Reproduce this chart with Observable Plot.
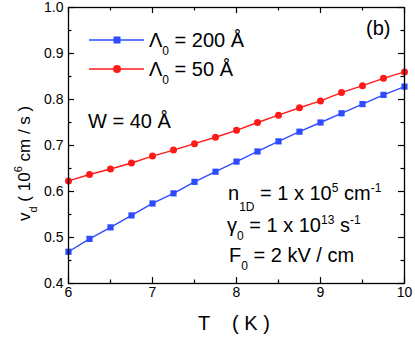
<!DOCTYPE html>
<html><head><meta charset="utf-8">
<script src="https://cdn.jsdelivr.net/npm/d3@7"></script>
<script src="https://cdn.jsdelivr.net/npm/@observablehq/plot@0.6"></script>
<style>body{margin:0;background:#fff}</style>
</head><body><div id="chart"></div>
<script>
const temperature = [6, 6.25, 6.5, 6.75, 7, 7.25, 7.5, 7.75, 8, 8.25, 8.5, 8.75, 9, 9.25, 9.5, 9.75, 10];
const vd200 = [0.469, 0.497, 0.522, 0.548, 0.574, 0.596, 0.621, 0.643, 0.665, 0.687, 0.709, 0.730, 0.750, 0.770, 0.790, 0.810, 0.828];
const vd50 = [0.623, 0.637, 0.649, 0.662, 0.677, 0.690, 0.704, 0.718, 0.733, 0.750, 0.766, 0.782, 0.797, 0.815, 0.830, 0.846, 0.860];
const xTicks = [6, 7, 8, 9, 10];
const xMinor = [6.5, 7.5, 8.5, 9.5];
const yTicks = [0.4, 0.5, 0.6, 0.7, 0.8, 0.9, 1.0];
const yMinor = [0.45, 0.55, 0.65, 0.75, 0.85, 0.95];
const blue = "#2f4bff", red = "#ff1a1a";

const d200 = temperature.map((t, i) => ({t, v: vd200[i]}));
const d50 = temperature.map((t, i) => ({t, v: vd50[i]}));

const W = 415, H = 338, mL = 68, mR = 11, mT = 7, mB = 55;
const fw = W - mL - mR, fh = H - mT - mB;
const major = 6, minor = 3.5;

const chart = Plot.plot({
  width: W, height: H,
  marginLeft: mL, marginRight: mR, marginTop: mT, marginBottom: mB,
  style: {fontFamily: "Arial, 'Liberation Sans', sans-serif", fontSize: "14px", color: "#000", background: "#fff"},
  x: {domain: [6, 10]},
  y: {domain: [0.4, 1.0]},
  marks: [
    Plot.line(d50, {x: "t", y: "v", stroke: red, strokeWidth: 1.4}),
    Plot.dot(d50, {x: "t", y: "v", fill: red, r: 3.5, stroke: "none"}),
    Plot.line(d200, {x: "t", y: "v", stroke: blue, strokeWidth: 1.4}),
    Plot.dot(d200, {x: "t", y: "v", fill: blue, symbol: "square", r: 3.5, stroke: "none"}),
    // inward ticks on all four sides
    Plot.ruleX(xTicks, {insetTop: fh - major, stroke: "#000", strokeWidth: 1.2}),
    Plot.ruleX(xMinor, {insetTop: fh - minor, stroke: "#000", strokeWidth: 1.2}),
    Plot.ruleX(xTicks, {insetBottom: fh - major, stroke: "#000", strokeWidth: 1.2}),
    Plot.ruleX(xMinor, {insetBottom: fh - minor, stroke: "#000", strokeWidth: 1.2}),
    Plot.ruleY(yTicks, {insetRight: fw - major, stroke: "#000", strokeWidth: 1.2}),
    Plot.ruleY(yMinor, {insetRight: fw - minor, stroke: "#000", strokeWidth: 1.2}),
    Plot.ruleY(yTicks, {insetLeft: fw - major, stroke: "#000", strokeWidth: 1.2}),
    Plot.ruleY(yMinor, {insetLeft: fw - minor, stroke: "#000", strokeWidth: 1.2}),
    Plot.frame({stroke: "#000", strokeWidth: 1.3}),
    Plot.axisX(xTicks, {anchor: "bottom", tickSize: 0, tickPadding: 4, label: null, fontSize: 14}),
    Plot.axisY(yTicks, {anchor: "left", tickSize: 0, tickPadding: 5, label: null, fontSize: 14, tickFormat: d3.format(".1f")})
  ]
});
document.getElementById("chart").appendChild(chart);

const svg = d3.select(chart);
function rich(g, x, y, parts, opts = {}) {
  const FS = opts.size || 20, SFS = Math.round(FS * 0.62);
  const subShift = opts.sub || 8;
  const t = g.append("text").attr("x", x).attr("y", y)
    .attr("text-anchor", "start")
    .style("font-size", FS + "px").attr("fill", "#000")
    .attr("font-family", "Arial, 'Liberation Sans', sans-serif");
  if (opts.transform) t.attr("transform", opts.transform);
  let shift = 0;
  for (const [txt, kind] of parts) {
    const target = kind === "sub" ? subShift : kind === "sup" ? -8 : 0;
    const s = t.append("tspan").text(txt).attr("dy", target - shift);
    if (kind !== "n") s.style("font-size", SFS + "px");
    shift = target;
  }
  return t;
}

// legend
const legend = [
  {color: blue, sym: "square", y: 40, base: 47, parts: [["Λ", "n"], ["0", "sub"], [" = 200 Å", "n"]]},
  {color: red, sym: "circle", y: 69, base: 76, parts: [["Λ", "n"], ["0", "sub"], [" = 50 Å", "n"]]}
];
const lg = svg.append("g");
for (const L of legend) {
  lg.append("line").attr("x1", 89).attr("x2", 144).attr("y1", L.y).attr("y2", L.y)
    .attr("stroke", L.color).attr("stroke-width", 1.4);
  if (L.sym === "square") lg.append("rect").attr("x", 113.5).attr("y", L.y - 3.5).attr("width", 7).attr("height", 7).attr("fill", L.color);
  else lg.append("circle").attr("cx", 117).attr("cy", L.y).attr("r", 4).attr("fill", L.color);
  rich(lg, 149, L.base, L.parts);
}
rich(svg, 366, 35, [["(b)", "n"]]);
rich(svg, 88, 128, [["W = 40 Å", "n"]]);
rich(svg, 228, 200, [["n", "n"], ["1D", "sub"], [" = 1 x 10", "n"], ["5", "sup"], [" cm", "n"], ["-1", "sup"]], {sub: 11});
rich(svg, 227, 232, [["γ", "n"], ["0", "sub"], [" = 1 x 10", "n"], ["13", "sup"], [" s", "n"], ["-1", "sup"]]);
rich(svg, 229, 262, [["F", "n"], ["0", "sub"], [" = 2 kV / cm", "n"]]);
// axis titles
rich(svg, 198, 330, [["T    ( K )", "n"]]);
rich(svg, 0, 0, [["v", "n"], ["d", "sub"], [" ( 10", "n"], ["6", "sup"], [" cm / s )", "n"]],
  {size: 17, sub: 7, transform: "translate(30,221) rotate(-90)"});
</script>
</body></html>
